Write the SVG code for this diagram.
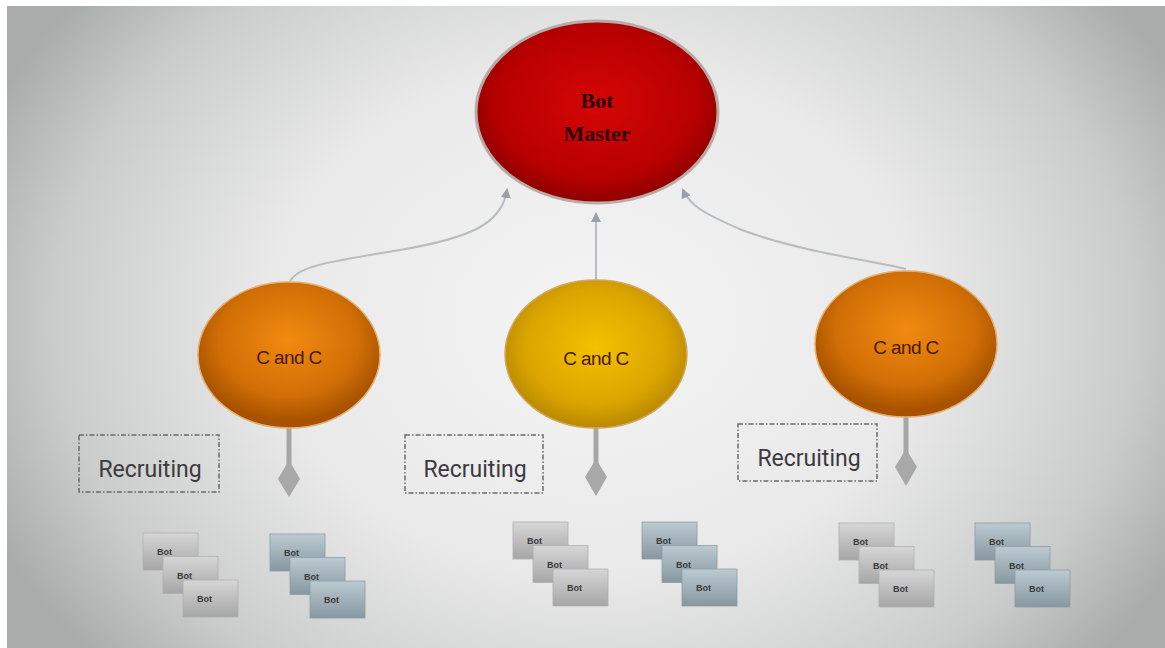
<svg xmlns="http://www.w3.org/2000/svg" width="1165" height="648" viewBox="0 0 1165 648">
<defs>
  <radialGradient id="bg" gradientUnits="userSpaceOnUse" cx="595" cy="320" r="660" gradientTransform="translate(595 320) scale(1 0.78) translate(-595 -320)">
    <stop offset="0" stop-color="#f4f4f4"/>
    <stop offset="0.5" stop-color="#e9e9e9"/>
    <stop offset="0.82" stop-color="#cacbcb"/>
    <stop offset="1" stop-color="#aaacab"/>
  </radialGradient>
  <radialGradient id="red" cx="0.5" cy="0.45" r="0.55">
    <stop offset="0" stop-color="#d40606"/>
    <stop offset="0.75" stop-color="#b80000"/>
    <stop offset="1" stop-color="#8c0000"/>
  </radialGradient>
  <radialGradient id="orange" cx="0.5" cy="0.4" r="0.55">
    <stop offset="0" stop-color="#f08a10"/>
    <stop offset="0.7" stop-color="#d06e06"/>
    <stop offset="1" stop-color="#a85200"/>
  </radialGradient>
  <radialGradient id="gold" cx="0.5" cy="0.45" r="0.55">
    <stop offset="0" stop-color="#f4c000"/>
    <stop offset="0.7" stop-color="#dba500"/>
    <stop offset="1" stop-color="#b88800"/>
  </radialGradient>
  <linearGradient id="greyBot" x1="0" y1="0" x2="0" y2="1">
    <stop offset="0" stop-color="#d6d6d6"/>
    <stop offset="1" stop-color="#a6a6a6"/>
  </linearGradient>
  <linearGradient id="blueBot" x1="0" y1="0" x2="0" y2="1">
    <stop offset="0" stop-color="#bccbd2"/>
    <stop offset="1" stop-color="#8797a0"/>
  </linearGradient>
  <marker id="arr" viewBox="0 0 10 10" refX="8" refY="5" markerWidth="5" markerHeight="5" orient="auto-start-reverse">
    <path d="M0,0 L10,5 L0,10 z" fill="#9aa0a6"/>
  </marker>
  <g id="stackGrey">
    <rect x="0" y="0" width="55" height="37" class="bg1"/>
    <text x="14" y="22" class="bt">Bot</text>
    <rect x="20" y="23.5" width="55" height="37" class="bg1"/>
    <text x="34" y="45.5" class="bt">Bot</text>
    <rect x="40" y="47" width="55" height="37" class="bg1"/>
    <text x="54" y="69" class="bt">Bot</text>
  </g>
  <g id="stackBlue">
    <rect x="0" y="0" width="55" height="37" class="bb1"/>
    <text x="14" y="22" class="bt">Bot</text>
    <rect x="20" y="23.5" width="55" height="37" class="bb1"/>
    <text x="34" y="45.5" class="bt">Bot</text>
    <rect x="40" y="47" width="55" height="37" class="bb1"/>
    <text x="54" y="69" class="bt">Bot</text>
  </g>
</defs>
<style>
  .cc { font-family: "Liberation Sans", Arial, sans-serif; font-size: 19px; fill: #4a1800; text-anchor: middle; letter-spacing: -0.6px; }
  .rec { font-family: "Roboto", "Liberation Sans", sans-serif; font-size: 23px; fill: #3c3a3e; text-anchor: middle; }
  .box { fill: none; stroke: #6a6a6a; stroke-width: 1.5; stroke-dasharray: 5 2 1.5 2; }
  .link { fill: none; stroke: #b8bcc0; stroke-width: 2; }
  .drop { stroke: #a6a6a6; stroke-width: 5; }
  .dia { fill: #a8a8a8; }
  .bg1 { fill: url(#greyBot); stroke: #b0b0b0; stroke-width: 0.8; }
  .bb1 { fill: url(#blueBot); stroke: #8e9ca4; stroke-width: 0.8; }
  .bt { font-family: "Liberation Sans", Arial, sans-serif; font-size: 9px; font-weight: bold; fill: #3a3a3a; }
  .bm { font-family: "Liberation Serif", serif; font-weight: bold; font-size: 22px; fill: #2e0404; text-anchor: middle; }
</style>
<rect x="0" y="0" width="1165" height="648" fill="#ffffff"/>
<rect x="7" y="6" width="1158" height="642" fill="url(#bg)"/>

<g id="connectors">
  <path class="link" d="M290,281 C300,265 330,262 400,250 C470,238 502,224 507,190" marker-end="url(#arr)"/>
  <line class="link" x1="596" y1="280" x2="596" y2="214" marker-end="url(#arr)"/>
  <path class="link" d="M906,269 C880,262 800,252 742,230 C705,214 690,206 683,190" marker-end="url(#arr)"/>
  <line class="drop" x1="289" y1="428" x2="289" y2="466"/>
  <polygon class="dia" points="289,460 300,479 289,497 278,479"/>
  <line class="drop" x1="596" y1="428" x2="596" y2="464"/>
  <polygon class="dia" points="596,459 607,477 596,496 585,477"/>
  <line class="drop" x1="906" y1="417" x2="906" y2="455"/>
  <polygon class="dia" points="906,449 917,467 906,486 895,467"/>
</g>

<g id="botmaster">
  <ellipse cx="597" cy="112" rx="121" ry="91" fill="url(#red)" stroke="#b9aaa6" stroke-width="3"/>
  <text class="bm" x="597" y="108">Bot</text>
  <text class="bm" x="597" y="141">Master</text>
</g>

<g id="cc-left">
  <ellipse cx="289" cy="355" rx="91" ry="73" fill="url(#orange)" stroke="#e0b070" stroke-width="1.5"/>
  <text class="cc" x="289" y="364">C and C</text>
</g>
<g id="cc-middle">
  <ellipse cx="596" cy="354" rx="91" ry="74" fill="url(#gold)" stroke="#d0a860" stroke-width="1.5"/>
  <text class="cc" x="596" y="365">C and C</text>
</g>
<g id="cc-right">
  <ellipse cx="906" cy="344" rx="91" ry="73" fill="url(#orange)" stroke="#e0b070" stroke-width="1.5"/>
  <text class="cc" x="906" y="354">C and C</text>
</g>

<g id="recruiting-left">
  <rect class="box" x="79" y="435" width="140" height="57"/>
  <text class="rec" x="150" y="477">Recruiting</text>
</g>
<g id="recruiting-middle">
  <rect class="box" x="405" y="435" width="138" height="58"/>
  <text class="rec" x="475" y="477">Recruiting</text>
</g>
<g id="recruiting-right">
  <rect class="box" x="738" y="424" width="139" height="57"/>
  <text class="rec" x="809" y="466">Recruiting</text>
</g>

<g id="bots-left-grey"><use href="#stackGrey" x="143" y="533"/></g>
<g id="bots-left-blue"><use href="#stackBlue" x="270" y="534"/></g>
<g id="bots-middle-grey"><use href="#stackGrey" x="513" y="522"/></g>
<g id="bots-middle-blue"><use href="#stackBlue" x="642" y="522"/></g>
<g id="bots-right-grey"><use href="#stackGrey" x="839" y="523"/></g>
<g id="bots-right-blue"><use href="#stackBlue" x="975" y="523"/></g>
</svg>
